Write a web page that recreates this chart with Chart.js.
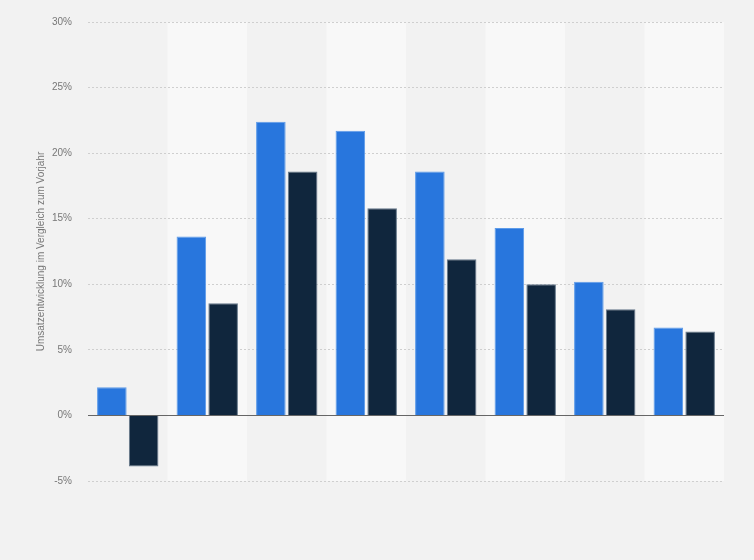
<!DOCTYPE html>
<html>
<head>
<meta charset="utf-8">
<script src="https://cdn.jsdelivr.net/npm/chart.js@4/dist/chart.umd.min.js"></script>
<style>
  html, body { margin: 0; padding: 0; background: #f2f2f2; }
  #wrap { width: 754px; height: 560px; position: relative; }
</style>
</head>
<body>
<div id="wrap"><canvas id="umsatz"></canvas></div>
<script>
// Kategorien (auf dem Bild nicht beschriftet)
const kategorien = ['1', '2', '3', '4', '5', '6', '7', '8'];

const serie1 = [2.15, 13.65, 22.4, 21.7, 18.6, 14.3, 10.2, 6.7];
const serie2 = [-3.9, 8.55, 18.6, 15.8, 11.9, 10.0, 8.1, 6.4];

const yTicks = [-5, 0, 5, 10, 15, 20, 25, 30];

// helle Streifen hinter jeder zweiten Kategorie (vor dem Gitter gezeichnet)
const streifen = {
    id: 'streifen',
    beforeDraw(chart) {
        const ctx = chart.ctx;
        const area = chart.chartArea;
        const x = chart.scales.x;
        const w = (area.right - area.left) / kategorien.length;
        ctx.save();
        ctx.fillStyle = '#f8f8f8';
        for (let i = 1; i < kategorien.length; i += 2) {
            const cx = x.getPixelForValue(i);
            ctx.fillRect(cx - w / 2, area.top, w, area.bottom - area.top);
        }
        ctx.restore();
    }
};

// Nulllinie über den Balken
const nulllinie = {
    id: 'nulllinie',
    afterDatasetsDraw(chart) {
        const ctx = chart.ctx;
        const area = chart.chartArea;
        const y = Math.round(chart.scales.y.getPixelForValue(0)) + 0.5;
        ctx.save();
        ctx.strokeStyle = '#666';
        ctx.lineWidth = 1;
        ctx.beginPath();
        ctx.moveTo(area.left, y);
        ctx.lineTo(area.right, y);
        ctx.stroke();
        ctx.restore();
    }
};

const data = {
    labels: kategorien,
    datasets: [{
        label: 'Serie 1',
        data: serie1,
        backgroundColor: '#2876dd',
        borderColor: '#5d9be9',
        borderWidth: 1
    },
    {
        label: 'Serie 2',
        data: serie2,
        backgroundColor: '#10263d',
        borderColor: '#66788a',
        borderWidth: 1
    }]
};

const config = {
    type: 'bar',
    data: data,
    options: {
        responsive: true,
        maintainAspectRatio: false,
        animation: false,
        layout: { padding: { left: 35, right: 30, top: 16, bottom: 79 } },
        categoryPercentage: 0.8,
        barPercentage: 0.93,
        plugins: {
            legend: { display: false },
            tooltip: { enabled: false }
        },
        scales: {
            x: {
                display: false,
                grid: { display: false }
            },
            y: {
                min: -5,
                max: 30,
                afterBuildTicks(scale) {
                    scale.ticks = yTicks.map(v => ({ value: v }));
                },
                afterFit(scale) { scale.width = 53; },
                border: { display: false, dash: [2, 2] },
                grid: {
                    drawTicks: false,
                    color: ctx => ctx.tick && ctx.tick.value === 0 ? 'rgba(0,0,0,0)' : '#cfcfcf'
                },
                ticks: {
                    padding: 16,
                    color: '#777',
                    font: { family: 'Liberation Sans', size: 10 },
                    callback: v => v + '%'
                },
                title: {
                    display: true,
                    text: 'Umsatzentwicklung im Vergleich zum Vorjahr',
                    color: '#777',
                    font: { family: 'Liberation Sans', size: 10 },
                    padding: { top: 0, bottom: 0 }
                }
            }
        }
    },
    plugins: [streifen, nulllinie]
};

const umsatz = new Chart(
    document.getElementById('umsatz'),
    config
);
</script>
</body>
</html>
